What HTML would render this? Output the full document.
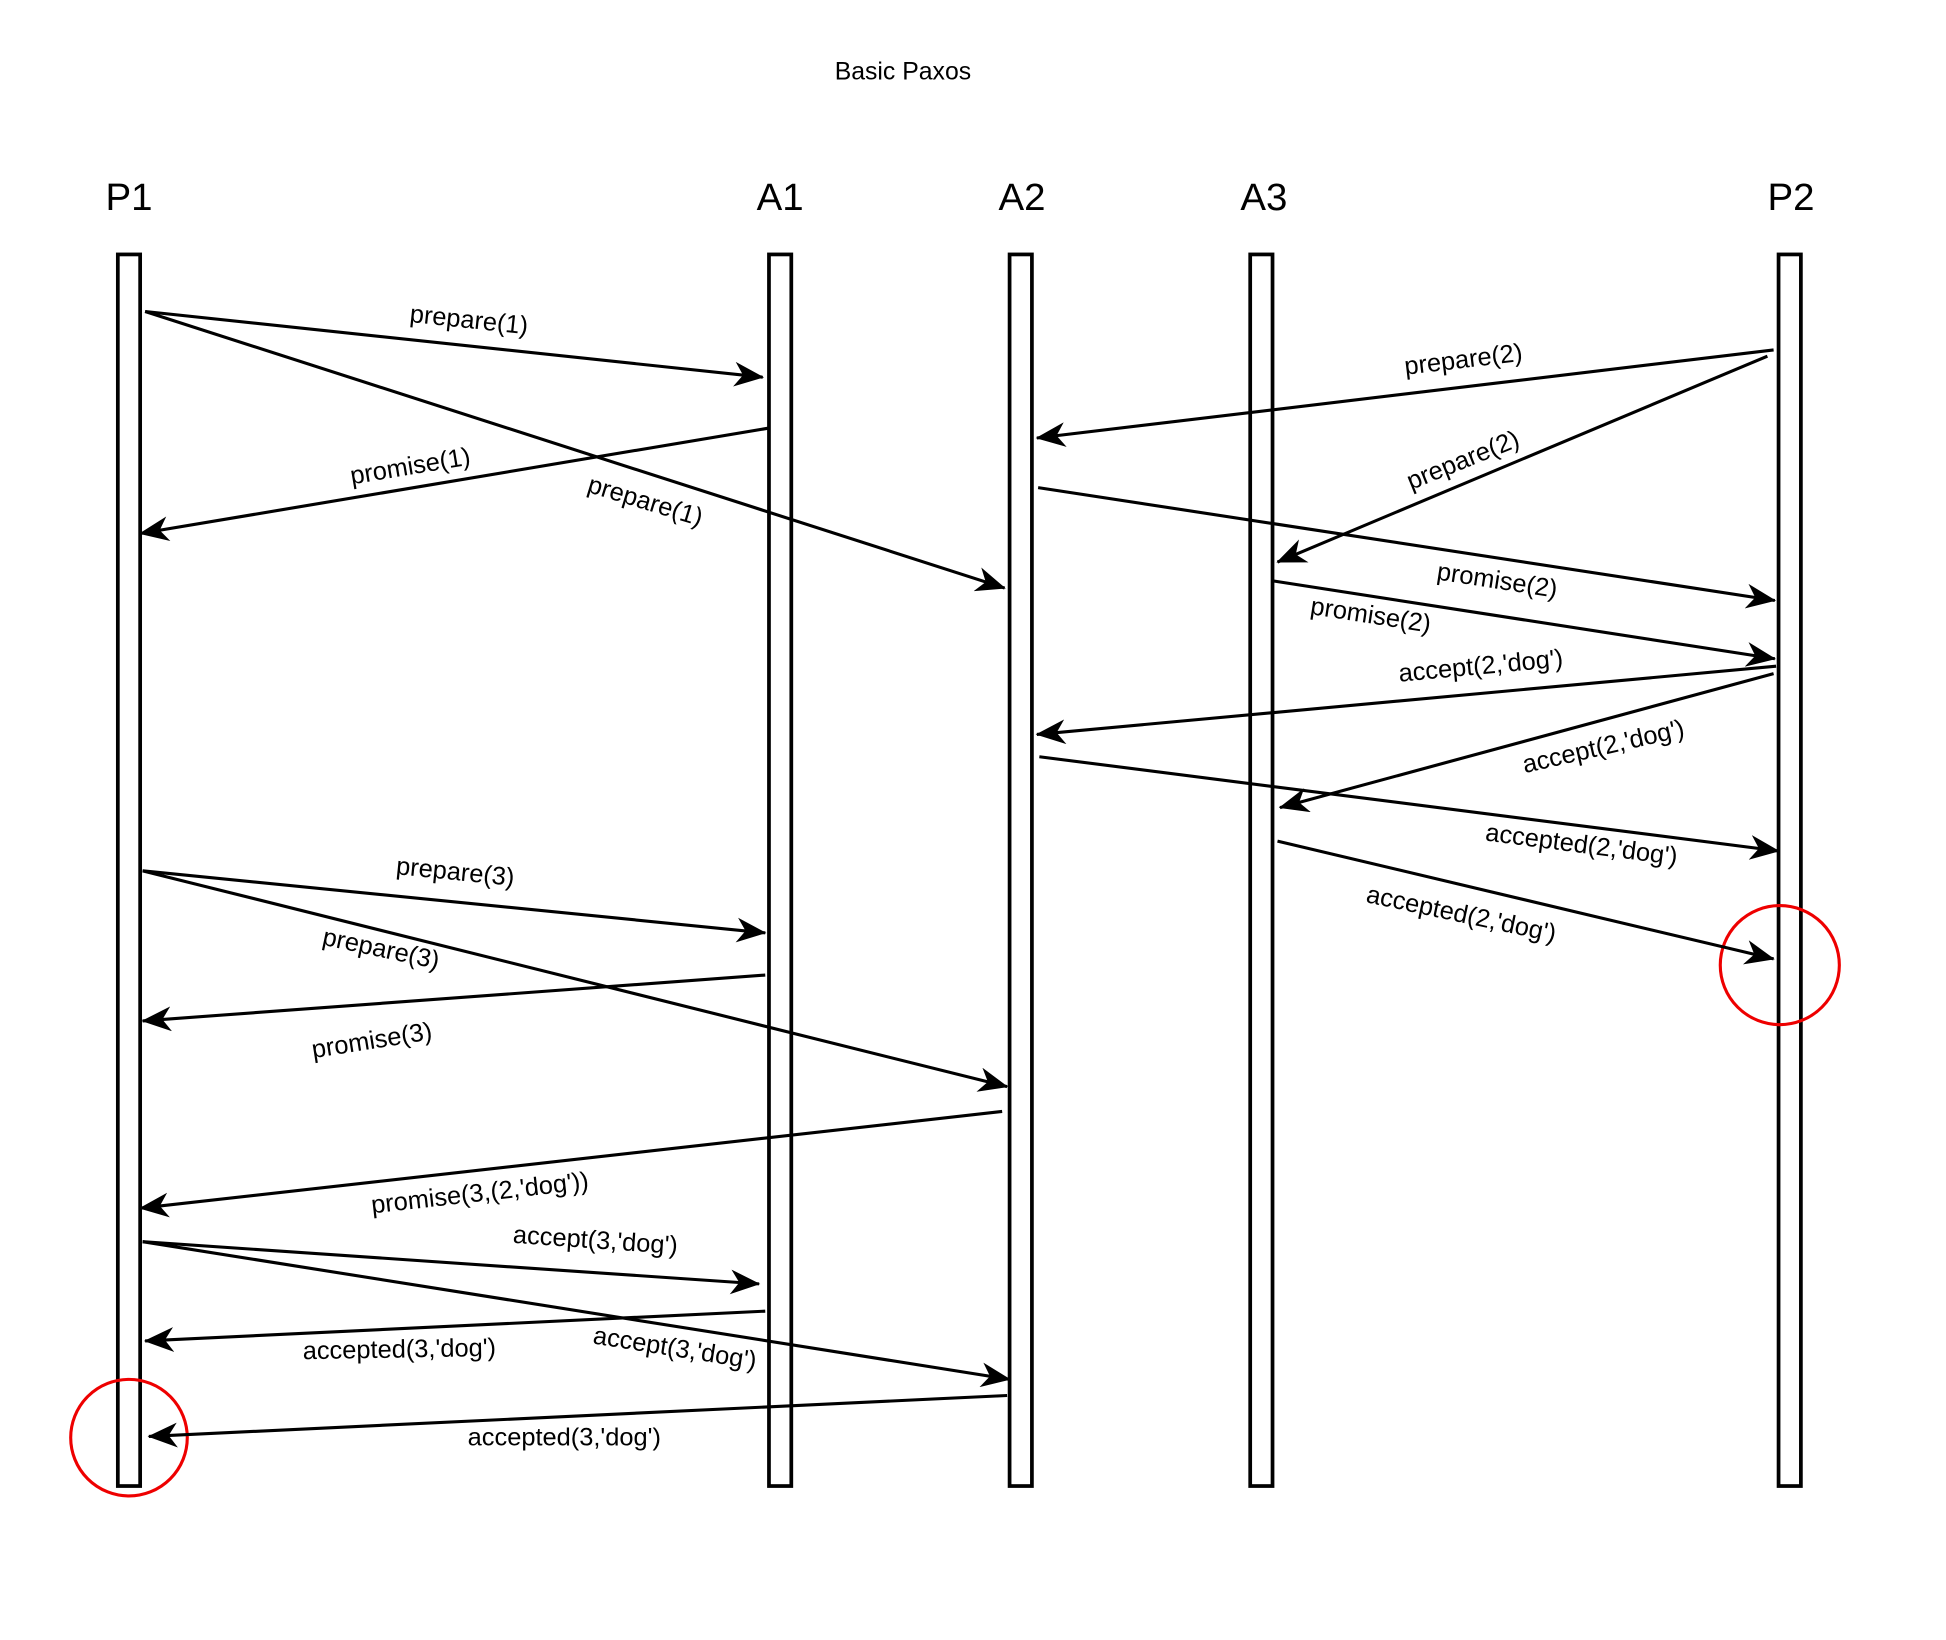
<!DOCTYPE html>
<html><head><meta charset="utf-8"><style>html,body{margin:0;padding:0;background:#fff}svg{display:block}</style></head>
<body>
<svg width="1946" height="1640" viewBox="0 0 1569 1322" xmlns="http://www.w3.org/2000/svg" font-family="Liberation Sans, Arial, sans-serif">
<defs>
<marker id="a" viewBox="0 0 24 20" refX="23" refY="10" markerWidth="24" markerHeight="20" markerUnits="userSpaceOnUse" orient="auto">
<path d="M0,0 L24,10 L0,20 L7,10 Z" fill="#000"/>
</marker>
</defs>
<rect width="1569" height="1322" fill="#fff"/>
<text x="728" y="64" font-size="20" text-anchor="middle">Basic Paxos</text>
<g font-size="31" text-anchor="middle">
<text x="104" y="169">P1</text><text x="629" y="169">A1</text><text x="824" y="169">A2</text><text x="1019" y="169">A3</text><text x="1444" y="169">P2</text>
</g>
<g fill="#fff" stroke="#000" stroke-width="3">
<rect x="95" y="205" width="18" height="993"/>
<rect x="620" y="205" width="18" height="993"/>
<rect x="814" y="205" width="18" height="993"/>
<rect x="1008" y="205" width="18" height="993"/>
<rect x="1434" y="205" width="18" height="993"/>
</g>
<g fill="none" stroke="#e00" stroke-width="2.5">
<circle cx="104" cy="1159" r="47"/><circle cx="1435" cy="778" r="48"/>
</g>
<g stroke="#000" stroke-width="2.5" marker-end="url(#a)">
<line x1="117" y1="251" x2="615" y2="304"/>
<line x1="117" y1="251" x2="810" y2="474"/>
<line x1="620" y1="345" x2="113" y2="430"/>
<line x1="1430" y1="282" x2="836" y2="353"/>
<line x1="1425" y1="287" x2="1030" y2="453"/>
<line x1="837" y1="393" x2="1431" y2="484"/>
<line x1="1025" y1="468" x2="1431" y2="531"/>
<line x1="1432" y1="537" x2="836" y2="592"/>
<line x1="1430" y1="543" x2="1032" y2="651"/>
<line x1="838" y1="610" x2="1434" y2="686"/>
<line x1="1030" y1="678" x2="1430" y2="773"/>
<line x1="115" y1="702" x2="617" y2="752"/>
<line x1="115" y1="702" x2="812" y2="876"/>
<line x1="617" y1="786" x2="115" y2="823"/>
<line x1="808" y1="896" x2="113" y2="974"/>
<line x1="115" y1="1001" x2="612" y2="1035"/>
<line x1="115" y1="1001" x2="814" y2="1112"/>
<line x1="617" y1="1057" x2="117" y2="1081"/>
<line x1="812" y1="1125" x2="120" y2="1158"/>
</g>
<g font-size="20.5" text-anchor="middle" dominant-baseline="middle">
<text transform="translate(378,259) rotate(6)">prepare(1)</text>
<text transform="translate(520,405) rotate(17)">prepare(1)</text>
<text transform="translate(331,377) rotate(-9.5)">promise(1)</text>
<text transform="translate(1180,291) rotate(-6.8)">prepare(2)</text>
<text transform="translate(1180,372) rotate(-22)">prepare(2)</text>
<text transform="translate(1207,469) rotate(8.7)">promise(2)</text>
<text transform="translate(1105,497) rotate(8.8)">promise(2)</text>
<text transform="translate(1194,538) rotate(-5.3)">accept(2,'dog')</text>
<text transform="translate(1293,603) rotate(-13)">accept(2,'dog')</text>
<text transform="translate(1275,682) rotate(7.3)">accepted(2,'dog')</text>
<text transform="translate(1178,738) rotate(12)">accepted(2,'dog')</text>
<text transform="translate(367,704) rotate(5.7)">prepare(3)</text>
<text transform="translate(307,766) rotate(12)">prepare(3)</text>
<text transform="translate(300,840) rotate(-9)">promise(3)</text>
<text transform="translate(387,963) rotate(-6.4)">promise(3,(2,'dog'))</text>
<text transform="translate(480,1001) rotate(3.9)">accept(3,'dog')</text>
<text transform="translate(544,1088) rotate(9)">accept(3,'dog')</text>
<text transform="translate(322,1089) rotate(-1)">accepted(3,'dog')</text>
<text transform="translate(455,1160) rotate(0)">accepted(3,'dog')</text>
</g>
</svg>
</body></html>
